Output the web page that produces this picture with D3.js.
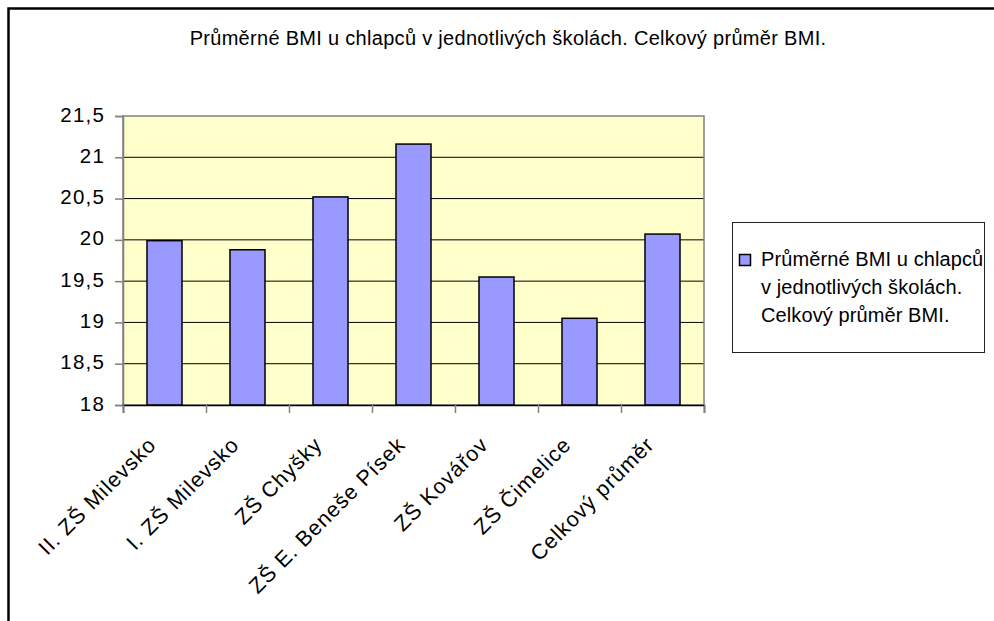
<!DOCTYPE html>
<html><head><meta charset="utf-8">
<script src="https://cdn.jsdelivr.net/npm/d3@7"></script>
<style>
body{margin:0;background:#fff}
svg{display:block}
text{font-family:"Liberation Sans",Arial,sans-serif;fill:#000}
</style>
</head><body>
<svg id="c" width="994" height="621"></svg>
<script>
const categories = ["II. ZŠ Milevsko", "I. ZŠ Milevsko", "ZŠ Chyšky", "ZŠ E. Beneše Písek", "ZŠ Kovářov", "ZŠ Čimelice", "Celkový průměr"];
const values = [19.99, 19.88, 20.52, 21.16, 19.55, 19.05, 20.07];
const yTicks = [18, 18.5, 19, 19.5, 20, 20.5, 21, 21.5];
const titleText = "Průměrné BMI u chlapců v jednotlivých školách. Celkový průměr BMI.";
const legendLines = ["Průměrné BMI u chlapců", "v jednotlivých školách.", "Celkový průměr BMI."];

const svg = d3.select("#c");
const L = 123, R = 704, T = 116, B = 405;

// outer frame
svg.append("path").attr("d", "M8.5,700V8.5H1200").attr("fill", "none")
  .attr("stroke", "#000").attr("stroke-width", 2.5);

// title
svg.append("text").attr("x", 508).attr("y", 45).attr("text-anchor", "middle")
  .style("font-size", "20px").style("letter-spacing", "0.3px").text(titleText);

const x = d3.scaleBand().domain(categories).range([L, R]).paddingInner(0.578).paddingOuter(0.289);
const xb = d3.scaleLinear().domain([0, categories.length]).range([L, R]);
const y = d3.scaleLinear().domain([18, 21.5]).range([B, T]);

// plot background
svg.append("rect").attr("x", L).attr("y", T).attr("width", R - L).attr("height", B - T).attr("fill", "#FFFFCC");

// gridlines
svg.append("g").selectAll("line").data(yTicks.filter(d => d > 18 && d < 21.5)).join("line")
  .attr("x1", L).attr("x2", R).attr("y1", d => y(d)).attr("y2", d => y(d))
  .attr("stroke", "#000").attr("stroke-width", 1);

// plot border
svg.append("rect").attr("x", L).attr("y", T).attr("width", R - L).attr("height", B - T)
  .attr("fill", "none").attr("stroke", "#808080").attr("stroke-width", 1.5);

// bars
svg.append("g").selectAll("rect").data(values).join("rect")
  .attr("x", (d, i) => x(categories[i])).attr("width", x.bandwidth())
  .attr("y", d => y(d)).attr("height", d => B - y(d))
  .attr("fill", "#9999FF").attr("stroke", "#000").attr("stroke-width", 1.5);

// y axis
const ya = svg.append("g").attr("transform", `translate(${L},0)`)
  .call(d3.axisLeft(y).tickValues(yTicks).tickSize(8).tickPadding(10)
    .tickFormat(d => String(d).replace(".", ",")));
ya.select(".domain").attr("stroke", "#808080").attr("stroke-width", 1.5);
ya.selectAll(".tick line").attr("stroke", "#808080").attr("stroke-width", 1.5);
ya.selectAll(".tick text").attr("dy", "0.25em").style("font-size", "20.5px").style("letter-spacing", "1.2px")
  .style("font-family", "'Liberation Sans',Arial,sans-serif").attr("fill", "#000");

// x axis ticks
const xa = svg.append("g").attr("transform", `translate(0,${B})`)
  .call(d3.axisBottom(xb).tickValues(d3.range(categories.length + 1)).tickSize(8).tickFormat(""));
xa.select(".domain").attr("stroke", "#000").attr("stroke-width", 1.5);
xa.selectAll(".tick line").attr("stroke", "#808080").attr("stroke-width", 1.5);

// x labels
svg.append("g").selectAll("text").data(categories).join("text")
  .attr("transform", d => `translate(${x(d) + x.bandwidth() / 2 - 7},446) rotate(-45)`)
  .attr("text-anchor", "end")
  .style("font-size", "21.5px").style("letter-spacing", "1px")
  .text(d => d);

// legend
const lg = svg.append("g");
lg.append("rect").attr("x", 732.5).attr("y", 222.5).attr("width", 252).attr("height", 130)
  .attr("fill", "#fff").attr("stroke", "#222").attr("stroke-width", 1);
lg.append("rect").attr("x", 739.5).attr("y", 254.5).attr("width", 11).attr("height", 11)
  .attr("fill", "#9999FF").attr("stroke", "#000").attr("stroke-width", 1.5);
lg.append("text").attr("x", 761).attr("y", 266).style("font-size", "20px").style("letter-spacing", "0.1px")
  .selectAll("tspan").data(legendLines).join("tspan")
  .attr("x", 761).attr("dy", (d, i) => i === 0 ? 0 : 28).text(d => d);
</script>
</body></html>
